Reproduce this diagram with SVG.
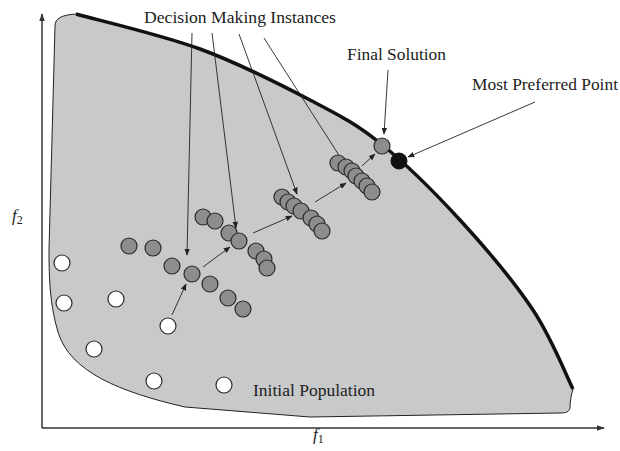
<svg xmlns="http://www.w3.org/2000/svg" width="620" height="451" viewBox="0 0 620 451" font-family="Liberation Serif, serif">
<style>
.lbl{font-size:17px;fill:#222}
.ax{font-style:italic;font-size:17px;fill:#222}
.sub{font-style:normal;font-size:12px}
.g{fill:#8c8d8f;stroke:#2a2a2a;stroke-width:1.2}
.w{fill:#fff;stroke:#2a2a2a;stroke-width:1.2}
.b{fill:#111;stroke:#111;stroke-width:1}
.c{stroke:#222;stroke-width:0.9;fill:none}
.axis{stroke:#333;stroke-width:1.5;fill:none}
</style>
<defs>
<marker id="ah" viewBox="0 0 10 10" refX="9" refY="5" markerWidth="7" markerHeight="7" markerUnits="userSpaceOnUse" orient="auto">
<path d="M0,1 L10,5 L0,9 Z" fill="#222"/>
</marker>
<marker id="axh" viewBox="0 0 10 10" refX="9" refY="5" markerWidth="8" markerHeight="8" markerUnits="userSpaceOnUse" orient="auto">
<path d="M0,1.5 L10,5 L0,8.5 Z" fill="#333"/>
</marker>
</defs>
<rect width="620" height="451" fill="#fff"/>
<g id="region">
<path d="M76,14 C96.7,19.8 161,34.7 200,49 C239,63.3 280,84.3 310,100 C340,115.7 355,123 380,143 C405,163 434.5,192.2 460,220 C485.5,247.8 514.2,281.8 533,310 C551.8,338.2 566.3,375.8 573,389 C571,395 570,402 570,408 C569,412 566,413 560,413 L310,417 L185,407 C120,392 70,372 58,332 C50,305 49,280 49,250 L55,26 C55,18 62,15 76,14 Z" fill="#c8c9cb" stroke="#222" stroke-width="1"/>
<path d="M76,14 C96.7,19.8 161,34.7 200,49 C239,63.3 280,84.3 310,100 C340,115.7 355,123 380,143 C405,163 434.5,192.2 460,220 C485.5,247.8 514.2,281.8 533,310 C551.8,338.2 566.3,375.8 573,389" fill="none" stroke="#111" stroke-width="3.5"/>
</g>
<g id="axes">
<line class="axis" x1="42" y1="428" x2="42" y2="14" marker-end="url(#axh)"/>
<line class="axis" x1="42" y1="428" x2="604" y2="428" marker-end="url(#axh)"/>
<text class="ax" x="12" y="221" font-family="Liberation Serif, serif">f<tspan class="sub" dy="3">2</tspan></text>
<text class="ax" x="313" y="440" font-family="Liberation Serif, serif">f<tspan class="sub" dy="3">1</tspan></text>
</g>
<g id="connectors">
<line class="c" x1="192" y1="33" x2="187" y2="255" marker-end="url(#ah)"/>
<line class="c" x1="212" y1="33" x2="236" y2="228" marker-end="url(#ah)"/>
<line class="c" x1="239" y1="34" x2="297" y2="194" marker-end="url(#ah)"/>
<line class="c" x1="264" y1="38" x2="342" y2="160"/>
<line class="c" x1="388" y1="70" x2="384" y2="134" marker-end="url(#ah)"/>
<line class="c" x1="535" y1="102" x2="408" y2="157" marker-end="url(#ah)"/>
<line class="c" x1="172" y1="315" x2="186" y2="284" marker-end="url(#ah)"/>
<line class="c" x1="203" y1="267" x2="230" y2="247" marker-end="url(#ah)"/>
<line class="c" x1="253" y1="233" x2="292" y2="216" marker-end="url(#ah)"/>
<line class="c" x1="315" y1="202" x2="346" y2="183" marker-end="url(#ah)"/>
<line class="c" x1="362" y1="166" x2="375" y2="154" marker-end="url(#ah)"/>
</g>
<g id="initial-population">
<circle class="w" cx="62" cy="263" r="8"/>
<circle class="w" cx="64" cy="303" r="8"/>
<circle class="w" cx="116" cy="299" r="8"/>
<circle class="w" cx="168" cy="326" r="8"/>
<circle class="w" cx="94" cy="349" r="8"/>
<circle class="w" cx="154" cy="381" r="8"/>
<circle class="w" cx="224" cy="385" r="8"/>
</g>
<g id="instance-1">
<circle class="g" cx="129" cy="246" r="8"/>
<circle class="g" cx="153" cy="248" r="8"/>
<circle class="g" cx="172" cy="266" r="8"/>
<circle class="g" cx="192" cy="274" r="8"/>
<circle class="g" cx="210" cy="284" r="8"/>
<circle class="g" cx="228" cy="298" r="8"/>
<circle class="g" cx="243" cy="309" r="8"/>
</g>
<g id="instance-2">
<circle class="g" cx="203" cy="217" r="8"/>
<circle class="g" cx="215" cy="221" r="8"/>
<circle class="g" cx="229" cy="233" r="8"/>
<circle class="g" cx="239" cy="241" r="8"/>
<circle class="g" cx="256" cy="251" r="8"/>
<circle class="g" cx="264" cy="259" r="8"/>
<circle class="g" cx="267" cy="268" r="8"/>
</g>
<g id="instance-3">
<circle class="g" cx="282" cy="197" r="8"/>
<circle class="g" cx="288" cy="202" r="8"/>
<circle class="g" cx="294" cy="206" r="8"/>
<circle class="g" cx="301" cy="211" r="8"/>
<circle class="g" cx="311" cy="218" r="8"/>
<circle class="g" cx="317" cy="224" r="8"/>
<circle class="g" cx="322" cy="231" r="8"/>
</g>
<g id="instance-4">
<circle class="g" cx="338" cy="163" r="8"/>
<circle class="g" cx="346" cy="167" r="8"/>
<circle class="g" cx="352" cy="171" r="8"/>
<circle class="g" cx="356" cy="176" r="8"/>
<circle class="g" cx="362" cy="181" r="8"/>
<circle class="g" cx="367" cy="186" r="8"/>
<circle class="g" cx="372" cy="192" r="8"/>
</g>
<g id="final-solution">
<circle class="g" cx="382" cy="146" r="8"/>
<text class="lbl" x="347" y="60" font-family="Liberation Serif, serif" textLength="99" lengthAdjust="spacingAndGlyphs">Final Solution</text>
</g>
<g id="most-preferred-point">
<circle class="b" cx="399" cy="161" r="8"/>
<text class="lbl" x="472" y="90" font-family="Liberation Serif, serif" textLength="146" lengthAdjust="spacingAndGlyphs">Most Preferred Point</text>
</g>
<g id="labels">
<text class="lbl" x="144" y="23" font-family="Liberation Serif, serif" textLength="192" lengthAdjust="spacingAndGlyphs">Decision Making Instances</text>
<text class="lbl" x="253" y="396" font-family="Liberation Serif, serif" textLength="122" lengthAdjust="spacingAndGlyphs">Initial Population</text>
</g>
</svg>
